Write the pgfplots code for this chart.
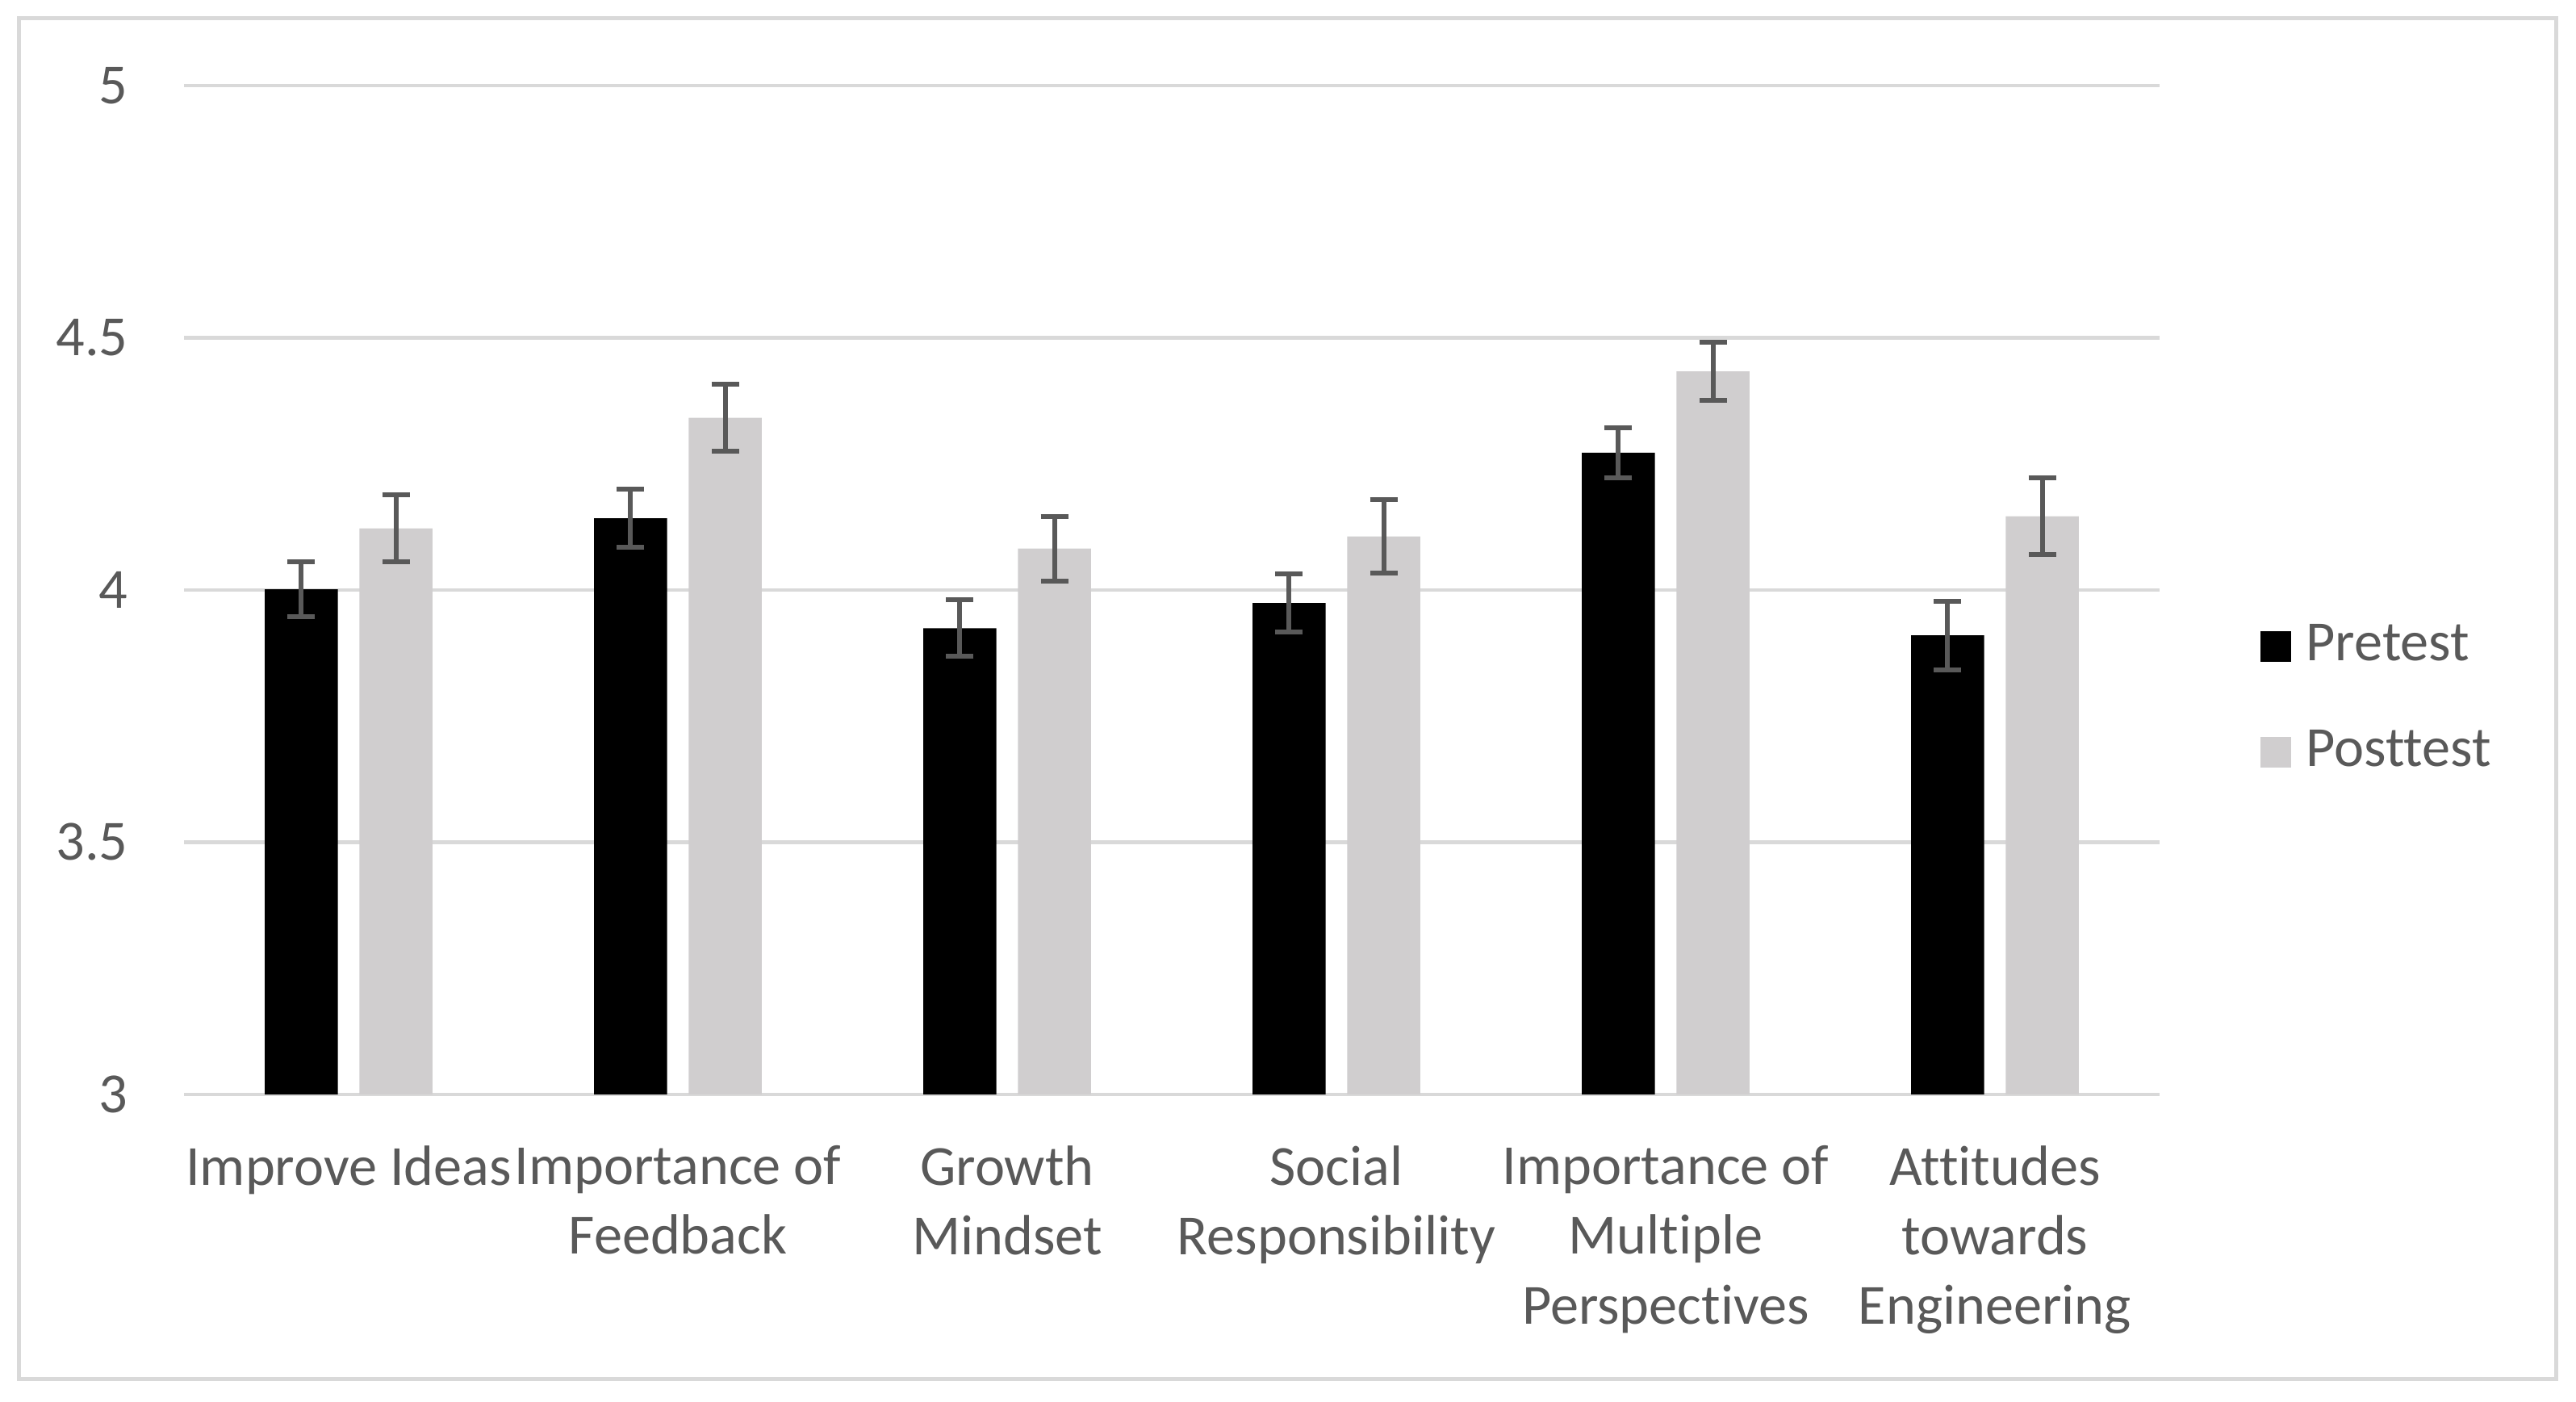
\documentclass[border=0pt]{standalone}
\usepackage{fontspec}
\setmainfont{Carlito}[Ligatures=NoCommon]
\usepackage{pgfplots}
\pgfplotsset{compat=1.18}

\definecolor{txt}{RGB}{89,89,89}
\definecolor{grd}{RGB}{217,217,217}
\definecolor{postc}{RGB}{208,206,207}

\begin{document}
\begin{tikzpicture}
\path[use as bounding box] (0,0) rectangle (159.6mm,86.8mm);
\draw[grd, line width=0.25mm] (1.15mm,1.4mm) rectangle (158.35mm,85.65mm);

\begin{axis}[%
at={(11.4mm,19.01mm)}, anchor=south west,
width=122.4mm, height=62.5mm,
scale only axis,
xmin=-0.5, xmax=5.5,
ymin=3, ymax=5,
xtick={0,...,5},
ytick={3,3.5,4,4.5,5},
xticklabels={{Improve Ideas},{Importance of\\Feedback},{Growth\\Mindset},{Social\\Responsibility},{Importance of\\Multiple\\Perspectives},{Attitudes\\towards\\Engineering}},
/pgf/number format/assume math mode=true,
major tick length=0pt,
axis line style={draw=none},
ymajorgrids,
grid style={grd, line width=0.65pt},
tick label style={font=\fontsize{10}{12.3}\selectfont, text=txt},
yticklabel style={anchor=east, inner sep=0pt, xshift=-3.4mm},
xticklabel style={anchor=north, inner sep=0pt, yshift=-3.1mm, align=center},
ybar, bar width=0.222,
legend style={draw=none, fill=none, at={(1,0.3914)}, anchor=west, xshift=5.15mm,
  font=\fontsize{10}{12}\selectfont, text=txt, row sep=3.75mm,
  nodes={inner sep=0pt},
  /tikz/every odd column/.style={column sep=0.9mm}},
legend cell align=left,
legend image code/.code={\fill[#1] (0mm,-0.95mm) rectangle (1.9mm,0.95mm);},
error bars/y dir=both,
error bars/y explicit,
error bars/error bar style={txt, line width=0.85pt},
error bars/error mark options={txt, rotate=90, mark size=0.85mm, line width=0.85pt},
clip=false]

\addplot [fill=black, draw=none, bar shift=-0.1435]
coordinates{
(0,4.001) +- (0,0.054)
(1,4.142) +- (0,0.058)
(2,3.924) +- (0,0.056)
(3,3.974) +- (0,0.058)
(4,4.272) +- (0,0.050)
(5,3.910) +- (0,0.068)
};

\addplot [fill=postc, draw=none, bar shift=0.1435]
coordinates{
(0,4.122) +- (0,0.067)
(1,4.341) +- (0,0.066)
(2,4.082) +- (0,0.064)
(3,4.106) +- (0,0.073)
(4,4.433) +- (0,0.058)
(5,4.146) +- (0,0.076)
};

\legend{Pretest,Posttest}
\end{axis}
\end{tikzpicture}
\end{document}
